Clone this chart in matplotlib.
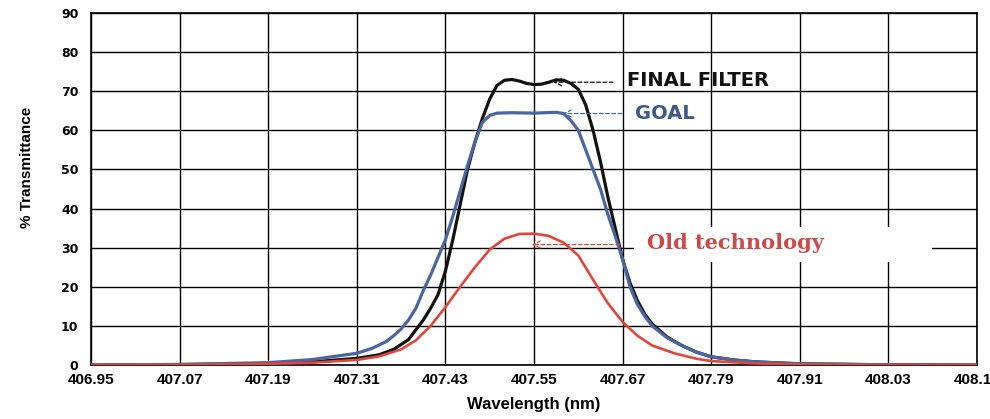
import numpy as np
import matplotlib
matplotlib.use("Agg")
import matplotlib.pyplot as plt
from matplotlib.patches import Rectangle

# -------------------------
# Data
# -------------------------
wl_final = [406.95, 407.07, 407.19, 407.25, 407.31, 407.34, 407.36, 407.38, 407.39,
            407.40, 407.41, 407.42, 407.43, 407.44, 407.45, 407.46, 407.47, 407.48,
            407.49, 407.50, 407.51, 407.52, 407.53, 407.54, 407.55, 407.56, 407.57,
            407.58, 407.59, 407.60, 407.61, 407.62, 407.63, 407.64, 407.65, 407.66,
            407.67, 407.68, 407.69, 407.70, 407.71, 407.73, 407.75, 407.77, 407.79,
            407.82, 407.85, 407.91, 408.03, 408.15]
t_final = [0.0, 0.1, 0.4, 0.8, 1.7, 2.6, 4.0, 6.5, 9.0,
           11.5, 14.5, 18.0, 24.0, 32.0, 41.0, 50.0, 57.0, 63.0,
           68.0, 71.5, 72.8, 73.0, 72.6, 72.0, 71.7, 71.8, 72.3,
           72.9, 72.8, 72.0, 70.5, 66.5, 60.0, 52.0, 43.0, 35.0,
           27.0, 21.0, 16.5, 13.0, 10.5, 7.2, 5.0, 3.3, 2.1,
           1.3, 0.8, 0.3, 0.05, 0.0]

wl_goal = [406.95, 407.07, 407.19, 407.25, 407.31, 407.33, 407.35, 407.36, 407.37,
           407.38, 407.39, 407.40, 407.41, 407.42, 407.43, 407.44, 407.45, 407.46,
           407.47, 407.48, 407.49, 407.50, 407.52, 407.55, 407.58, 407.59, 407.60,
           407.61, 407.62, 407.63, 407.64, 407.65, 407.66, 407.67, 407.68, 407.69,
           407.70, 407.71, 407.73, 407.75, 407.77, 407.79, 407.82, 407.85, 407.91,
           408.03, 408.15]
t_goal = [0.0, 0.15, 0.6, 1.4, 3.0, 4.2, 6.0, 7.5, 9.2,
          11.5, 14.5, 19.0, 23.0, 27.5, 32.0, 38.0, 44.5, 51.0,
          57.0, 62.0, 63.8, 64.4, 64.5, 64.4, 64.6, 64.3, 62.5,
          60.0, 55.0, 50.0, 45.0, 38.5, 33.0, 27.0, 20.0, 15.5,
          12.5, 10.0, 7.0, 5.0, 3.3, 2.1, 1.3, 0.8, 0.3,
          0.05, 0.0]

wl_old = [406.95, 407.07, 407.19, 407.25, 407.31, 407.34, 407.37, 407.39, 407.41,
          407.43, 407.45, 407.47, 407.49, 407.51, 407.53, 407.55, 407.57, 407.59,
          407.61, 407.63, 407.65, 407.67, 407.69, 407.71, 407.74, 407.77, 407.79,
          407.85, 407.91, 408.03, 408.15]
t_old = [0.0, 0.05, 0.3, 0.6, 1.3, 2.2, 4.0, 6.3, 10.0,
         14.8, 20.0, 25.0, 29.5, 32.3, 33.5, 33.6, 33.0, 31.3,
         28.0, 21.8, 15.8, 11.0, 7.5, 5.0, 3.0, 1.6, 1.0,
         0.4, 0.15, 0.0, 0.0]

x_ticks = [406.95, 407.07, 407.19, 407.31, 407.43, 407.55, 407.67, 407.79, 407.91, 408.03, 408.15]
y_ticks = [0, 10, 20, 30, 40, 50, 60, 70, 80, 90]

BLACK = "#111111"
BLUE = "#4a66a0"
RED = "#e0463c"

# -------------------------
# Plot
# -------------------------
fig = plt.figure(figsize=(9.9, 4.19), dpi=100)
ax = fig.add_axes([91 / 990, 54 / 419, 886 / 990, 352 / 419])

ax.plot(wl_final, t_final, color=BLACK, lw=2.3, zorder=3)
ax.plot(wl_goal, t_goal, color=BLUE, lw=2.3, zorder=3.2)
ax.plot(wl_old, t_old, color=RED, lw=1.9, zorder=3.4)

ax.set_xlim(x_ticks[0], x_ticks[-1])
ax.set_ylim(y_ticks[0], y_ticks[-1])
ax.set_xticks(x_ticks)
ax.set_xticklabels([f"{v:.2f}" for v in x_ticks])
ax.set_yticks(y_ticks)

ax.grid(True, color="black", lw=1.0)
for s in ax.spines.values():
    s.set_color("black")
    s.set_linewidth(1.2)

ax.tick_params(axis="x", length=0, pad=6)
ax.tick_params(axis="y", length=0, pad=9)
for lab in ax.get_xticklabels():
    lab.set_fontfamily("Liberation Sans")
    lab.set_fontweight("bold")
    lab.set_fontsize(11)
for lab in ax.get_yticklabels():
    lab.set_fontfamily("DejaVu Sans")
    lab.set_fontweight("bold")
    lab.set_fontsize(9)

ax.set_ylabel("% Transmittance", family="Liberation Sans", weight="bold", fontsize=11)
ax.yaxis.set_label_coords(-0.064, 0.5625)
ax.set_xlabel("Wavelength (nm)", family="Liberation Sans", weight="bold", fontsize=12)
ax.xaxis.set_label_coords(0.5, -0.09)

# white patch behind the "Old technology" label
ax.add_patch(Rectangle((407.685, 26.3), 408.089 - 407.685, 35.2 - 26.3,
                       facecolor="white", edgecolor="none", zorder=1.7))

# -------------------------
# Annotations
# -------------------------
def dashed_arrow(x0, x1, y, color):
    ax.annotate("", xy=(x1, y), xytext=(x0, y),
                arrowprops=dict(arrowstyle="->,head_length=0.5,head_width=0.25",
                                linestyle=(0, (3, 2)), lw=0.9, color=color,
                                shrinkA=0, shrinkB=0),
                zorder=4)

dashed_arrow(407.657, 407.576, 72.3, BLACK)
ax.text(407.676, 72.7, "FINAL FILTER", family="DejaVu Sans", weight="bold",
        fontsize=14, color=BLACK, ha="left", va="center", zorder=5)

dashed_arrow(407.669, 407.589, 64.3, BLUE)
ax.text(407.687, 64.3, "GOAL", family="DejaVu Sans", weight="bold",
        fontsize=14, color="#3d5a8a", ha="left", va="center", zorder=5)

dashed_arrow(407.666, 407.547, 30.8, RED)
ax.text(407.703, 31.1, "Old technology", family="DejaVu Serif", weight="bold",
        fontsize=15, color="#d04848", ha="left", va="center", zorder=5)

fig.savefig("out.png", dpi=100)
